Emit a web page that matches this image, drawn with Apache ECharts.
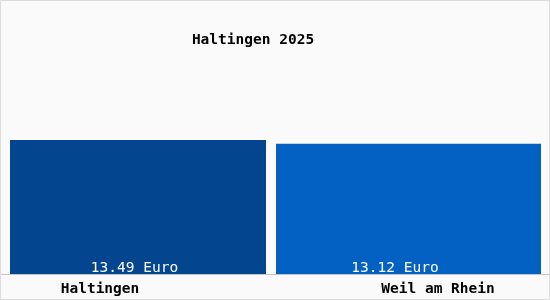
<!DOCTYPE html>
<html>
<head>
<meta charset="utf-8">
<script src="https://cdn.jsdelivr.net/npm/echarts@6/dist/echarts.min.js"></script>
<style>
html,body{margin:0;padding:0;background:#fafafa;}
#c{width:550px;height:300px;}
</style>
</head>
<body>
<div id="c"></div>
<script>
const titleText = 'Haltingen 2025';
const categories = ['Haltingen', 'Weil am Rhein'];
const values = [13.49, 13.12];
const unit = 'Euro';
const barColors = ['#03468f', '#0361c3'];

const FONT = '"DejaVu Sans Mono", "Liberation Mono", monospace';
const chart = echarts.init(document.getElementById('c'), null, {renderer: 'canvas'});

const yCommon = {type: 'value', min: 0, max: 20, show: false};
const option = {
  backgroundColor: '#fafafa',
  animation: false,
  title: {
    text: titleText, left: 251.5, top: 28, textAlign: 'center',
    textStyle: {fontFamily: FONT, fontSize: 14.5, fontWeight: 'bold', color: '#000'}
  },
  graphic: [{
    type: 'rect', shape: {x: 0.5, y: 0.5, width: 549, height: 299},
    style: {fill: 'none', stroke: '#dcdcdc', lineWidth: 1}, z: 100
  }],
  grid: [
    {left: 1, right: 1, top: 75.3, bottom: 26},
    {left: 10, width: 256, top: 75.3, bottom: 26},
    {left: 276, width: 265, top: 75.3, bottom: 26}
  ],
  xAxis: [
    {
      type: 'category', gridIndex: 0,
      data: [
        {value: categories[0], textStyle: {padding: [0, 76, 0, 0]}},
        {value: categories[1], textStyle: {padding: [0, 0, 0, 52]}}
      ],
      axisLine: {lineStyle: {color: '#c4c4c4'}},
      axisTick: {show: false},
      axisLabel: {fontFamily: FONT, fontSize: 14.5, fontWeight: 'bold', color: '#000', margin: 8, interval: 0}
    },
    {type: 'category', gridIndex: 1, data: [categories[0]], show: false},
    {type: 'category', gridIndex: 2, data: [categories[1]], show: false}
  ],
  yAxis: [
    Object.assign({gridIndex: 0}, yCommon),
    Object.assign({gridIndex: 1}, yCommon),
    Object.assign({gridIndex: 2}, yCommon)
  ],
  series: [0, 1].map(i => ({
    type: 'bar', xAxisIndex: i + 1, yAxisIndex: i + 1,
    barWidth: '100%',
    data: [{
      value: values[i],
      itemStyle: {color: barColors[i]},
      label: {offset: [i === 0 ? -3.5 : -13.5, 2]}
    }],
    label: {
      show: true, position: 'insideBottom', distance: 0,
      fontFamily: FONT, fontSize: 14.5, color: '#fff',
      formatter: p => p.value.toFixed(2) + ' ' + unit
    }
  }))
};
option.title.left = 248;
chart.setOption(option);
</script>
</body>
</html>
